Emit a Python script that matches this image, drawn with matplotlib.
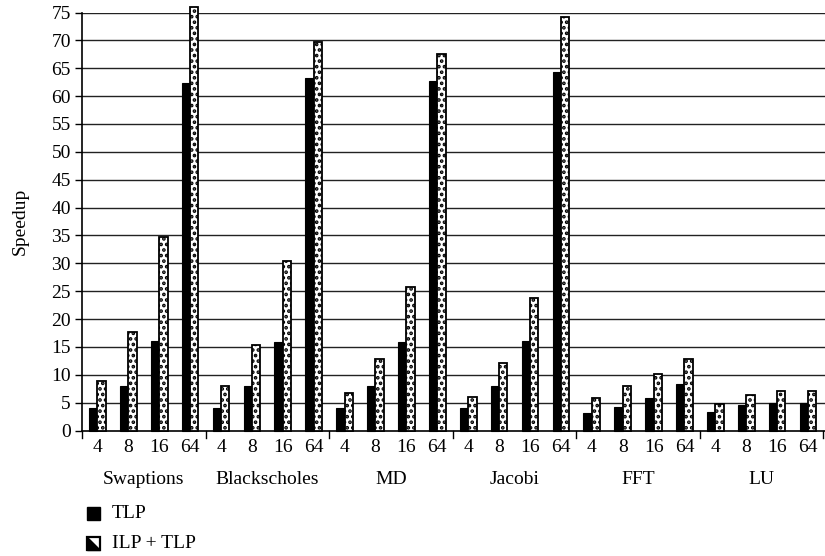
import numpy as np
import matplotlib
matplotlib.use("Agg")
import matplotlib.pyplot as plt
from matplotlib.patches import Rectangle, Polygon

# Benchmarks and core counts
benchmarks = ["Swaptions", "Blackscholes", "MD", "Jacobi", "FFT", "LU"]
cores = ["4", "8", "16", "64"]

# Speedup per benchmark, one value per core count
tlp = [
    [4.0, 8.0, 16.0, 62.3],
    [4.0, 8.0, 15.8, 63.3],
    [4.0, 8.0, 15.8, 62.7],
    [4.0, 8.0, 16.1, 64.3],
    [3.1, 4.3, 5.8, 8.3],
    [3.4, 4.6, 4.9, 4.9],
]
ilp_tlp = [
    [8.9, 17.6, 34.7, 76.0],
    [7.9, 15.3, 30.5, 69.7],
    [6.7, 12.8, 25.7, 67.6],
    [6.1, 12.1, 23.8, 74.2],
    [5.8, 7.9, 10.1, 12.8],
    [4.8, 6.3, 7.0, 7.0],
]
series_labels = ["TLP", "ILP + TLP"]

plt.rcParams["font.family"] = ["Liberation Serif", "DejaVu Serif"]
plt.rcParams["hatch.linewidth"] = 1.8
FS = 14

W, H = 825, 556
fig = plt.figure(figsize=(W / 100, H / 100), dpi=100)
ax = fig.add_axes([82 / W, 1 - 430.5 / H, (W - 82) / W, (430.5 - 12.5) / H])
ppu = (430.5 - 12.5) / 75.0  # pixels per speedup unit

tlp_flat = np.array(tlp).ravel()
ilp_flat = np.array(ilp_tlp).ravel()
n = len(tlp_flat)
x = np.arange(n)
bw = 0.27

ax.set_axisbelow(True)
for yv in range(5, 80, 5):
    ax.axhline(yv, color="#222222", lw=1.0, zorder=0)

ax.bar(x - bw / 2, tlp_flat, bw, color="black", edgecolor="black",
       lw=0.8, zorder=3, clip_on=False)
ax.bar(x + bw / 2, ilp_flat, bw, color="white", edgecolor="black",
       hatch="...", lw=1.3, zorder=3, clip_on=False)

ax.set_xlim(-0.5, n - 0.5 + 0.05)
ax.set_ylim(0, 75)
ax.set_yticks(range(0, 80, 5))
ax.tick_params(axis="y", direction="out", length=5, width=1, labelsize=FS, pad=3)
ax.set_ylabel("Speedup", fontsize=FS, labelpad=16)

# Core-count labels under each pair, benchmark names under each group
ax.set_xticks([])
for i in range(n):
    ax.text(x[i], -(447 - 430.5) / ppu, cores[i % 4], ha="center",
            va="center", fontsize=FS)
for g, name in enumerate(benchmarks):
    ax.text(4 * g + 1.5, -(479 - 430.5) / ppu, name, ha="center",
            va="center", fontsize=FS)
for b in np.arange(-0.5, n, 4):
    ax.plot([b, b], [0, -1.4], color="black", lw=1.0, clip_on=False)

for s in ["top", "right"]:
    ax.spines[s].set_visible(False)
ax.spines["left"].set_linewidth(1.2)
ax.spines["bottom"].set_linewidth(1.2)

# Legend drawn below the axes in pixel coordinates
def px(xp, yp):
    return (xp / W, 1 - yp / H)

x0, sz = 87, 13
y1 = 507
fig.patches.append(Rectangle(px(x0, y1 + sz), sz / W, sz / H, facecolor="black",
                             edgecolor="black", transform=fig.transFigure))
fig.text(*px(112, y1 + sz / 2), series_labels[0], fontsize=FS, va="center")
y2 = 537
fig.patches.append(Rectangle(px(x0, y2 + sz), sz / W, sz / H, facecolor="white",
                             edgecolor="black", lw=1.6, transform=fig.transFigure))
fig.patches.append(Polygon([px(x0, y2), px(x0, y2 + sz), px(x0 + sz, y2 + sz)],
                           closed=True, facecolor="black", edgecolor="black",
                           transform=fig.transFigure))
fig.text(*px(112, y2 + sz / 2), series_labels[1], fontsize=FS, va="center")

fig.savefig("out.png", dpi=100)
